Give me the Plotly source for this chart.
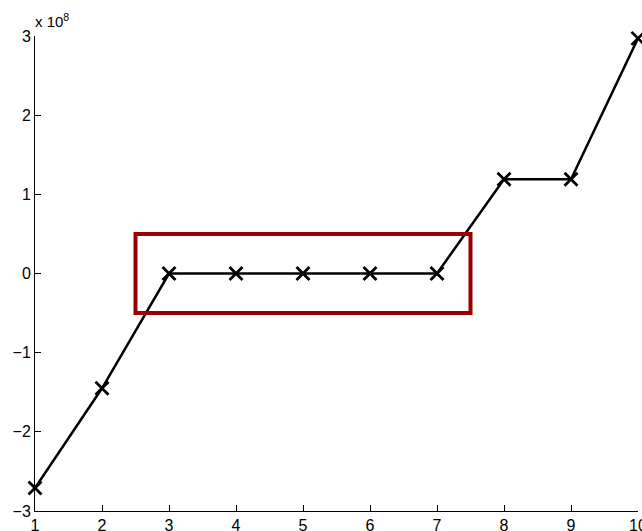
import plotly.graph_objects as go

x_vals = [1, 2, 3, 4, 5, 6, 7, 8, 9, 10]
y_vals = [-2.71e8, -1.45e8, 0, 0, 0, 0, 0, 1.19e8, 1.19e8, 2.97e8]
x_ticks = [1, 2, 3, 4, 5, 6, 7, 8, 9, 10]
y_ticks = [-3e8, -2e8, -1e8, 0, 1e8, 2e8, 3e8]
y_tick_text = ["\u22123", "\u22122", "\u22121", "0", "1", "2", "3"]
box_x = [2.5, 7.5]
box_y = [-0.5e8, 0.5e8]

fig = go.Figure()
fig.add_trace(go.Scatter(
    x=x_vals, y=y_vals, mode="lines+markers",
    line=dict(color="black", width=2.5),
    marker=dict(symbol="x-thin", size=13, line=dict(color="black", width=2.8), color="black"),
    cliponaxis=False, showlegend=False,
))
fig.add_shape(type="rect", x0=box_x[0], x1=box_x[1], y0=box_y[0], y1=box_y[1],
              xref="x", yref="y", line=dict(color="#990000", width=4))

fig.update_layout(
    width=642, height=531,
    margin=dict(l=35, r=4, t=36, b=20),
    paper_bgcolor="white", plot_bgcolor="white",
    font=dict(family="Liberation Sans, Arial, sans-serif", size=16, color="black"),
    xaxis=dict(range=[1, 10], tickvals=x_ticks, ticks="inside", ticklen=6, tickcolor="black",
               showline=True, linecolor="black", linewidth=1, showgrid=False, zeroline=False,
               tickfont=dict(size=16, color="black"), automargin=False,
               ticklabeloverflow="allow"),
    yaxis=dict(range=[-3e8, 3e8], tickvals=y_ticks, ticktext=y_tick_text, ticks="inside",
               ticklen=6, tickcolor="black", showline=True, linecolor="black", linewidth=1,
               showgrid=False, zeroline=False, tickfont=dict(size=16, color="black"),
               automargin=False, ticklabeloverflow="allow"),
    annotations=[dict(text="x 10<sup>8</sup>", xref="paper", yref="paper", x=0, y=1,
                      xanchor="left", yanchor="bottom", yshift=4, xshift=-2, showarrow=False,
                      font=dict(size=15, color="black"))],
)
fig.write_html("out.html", config={"displayModeBar": False},
               post_script="document.body.style.margin='0';document.body.style.overflow='hidden';")
